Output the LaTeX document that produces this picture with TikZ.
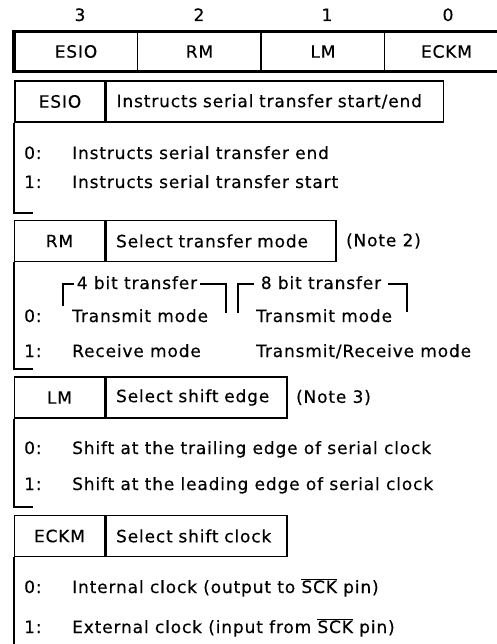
\documentclass[tikz,border=0pt]{standalone}
\usepackage{fontspec}
\setmainfont{DejaVu Sans}[LetterSpace=5, FakeBold=0.4]
\usetikzlibrary{positioning}

\begin{document}
\begin{tikzpicture}[
    x=1pt, y=-1pt,
    every node/.style={font=\fontsize{17}{20}\selectfont, inner sep=0pt},
    regcell/.style={minimum width=123.5, minimum height=39},
    keybox/.style={draw, line width=1.6pt, minimum width=90, minimum height=41},
    descbox/.style={draw, line width=1.6pt, minimum height=41, inner xsep=10pt, align=left},
    val/.style={anchor=base west},
    frame/.style={line width=1.6pt},
    heavy/.style={line width=3.2pt},
    blank/.style={fill=white, anchor=base, inner ysep=1pt},
]
\useasboundingbox (0,0) rectangle (496,644);

% register
\node[regcell] (esio) at (76,51.5)   {ESIO};
\node[regcell] (rm)   at (199.5,51.5) {RM};
\node[regcell] (lm)   at (323,51.5)  {LM};
\node[regcell] (eckm) at (446.5,51.5) {ECKM};
\draw[frame] (rm.north west) -- (rm.south west);
\draw[frame] (lm.north west) -- (lm.south west);
\draw[frame] (eckm.north west) -- (eckm.south west);
\draw[heavy] (eckm.north east) -- (esio.north west) -- (esio.south west) -- (eckm.south east);

\foreach \b/\x in {3/80, 2/199, 1/327, 0/448}
    \node[anchor=base] (bit\b) at (\x,21) {\b};

% ESIO
\node[keybox] (kEsio) at (60,101.5) {ESIO};
\node[descbox, text width=317, right=0pt of kEsio] (dEsio) {Instructs serial transfer start/end};
\node[val] (e0n) at (24,159) {0:};
\node[val] (e0t) at (72,159) {Instructs serial transfer end};
\node[val] (e1n) at (24,188) {1:};
\node[val] (e1t) at (72,188) {Instructs serial transfer start};
\draw[frame] (kEsio.south west) |- (33,213);

% RM
\node[keybox] (kRm) at (59.5,241) {RM};
\node[descbox, text width=210, right=0pt of kRm] (dRm) {Select transfer mode};
\node[right=9pt of dRm] (nRm) {(Note 2)};
\draw[frame] (63,306) |- (226,284) -- (226,313);
\draw[frame] (238,313) |- (407,284) -- (407,312);
\node[blank, inner xsep=3pt] (four)  at (137,289) {4 bit transfer};
\node[blank, inner xsep=7pt] (eight) at (321,289) {8 bit transfer};
\node[val] (r0n)  at (24,322)  {0:};
\node[val] (r0a)  at (72,322)  {Transmit mode};
\node[val] (r0b)  at (256,322) {Transmit mode};
\node[val] (r1n)  at (24,357)  {1:};
\node[val] (r1a)  at (72,357)  {Receive mode};
\node[val] (r1b)  at (256,357) {Transmit/Receive mode};
\draw[frame] (kRm.south west) |- (33,369);

% LM
\node[keybox] (kLm) at (59.5,397.5) {LM};
\node[descbox, text width=161, right=0pt of kLm] (dLm) {Select shift edge};
\node[right=8pt of dLm] (nLm) {(Note 3)};
\node[val] (l0n) at (24,454) {0:};
\node[val] (l0t) at (72,454) {Shift at the trailing edge of serial clock};
\node[val] (l1n) at (24,490) {1:};
\node[val] (l1t) at (72,490) {Shift at the leading edge of serial clock};
\draw[frame] (kLm.south west) |- (33,507);

% ECKM
\node[keybox] (kEckm) at (59.5,536) {ECKM};
\node[descbox, text width=161, right=0pt of kEckm] (dEckm) {Select shift clock};
\node[val] (c0n) at (24,593) {0:};
\node[val] (c0t) at (72,593) {Internal clock (output to $\overline{\hbox{SCK}}$ pin)};
\node[val] (c1n) at (24,633) {1:};
\node[val] (c1t) at (72,633) {External clock (input from $\overline{\hbox{SCK}}$ pin)};
\draw[frame] (kEckm.south west) -- (kEckm.south west |- 0,650);

\end{tikzpicture}
\end{document}
